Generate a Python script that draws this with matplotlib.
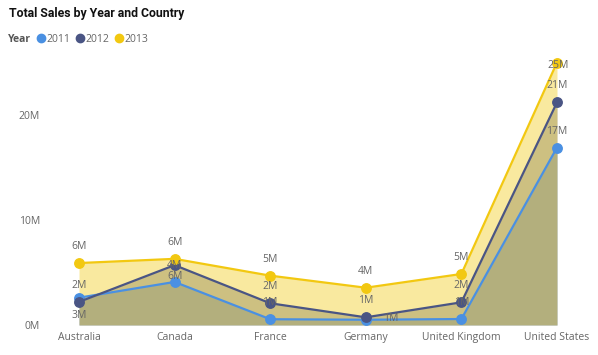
import matplotlib
matplotlib.use("Agg")
import matplotlib.pyplot as plt
from matplotlib.lines import Line2D

countries = ["Australia", "Canada", "France", "Germany", "United Kingdom", "United States"]
years = ["2011", "2012", "2013"]
sales_2011 = [2.6, 4.1, 0.55, 0.5, 0.57, 16.9]
sales_2012 = [2.2, 5.7, 2.07, 0.73, 2.16, 21.2]
sales_2013 = [5.9, 6.3, 4.7, 3.55, 4.86, 25.0]
series = [sales_2011, sales_2012, sales_2013]
colors = ["#4A90E2", "#4A5584", "#F2C811"]

# label offsets in pixels (dx, dy), keyed by (country index, series index)
default_off = (0, 16.5)
special_off = {
    (0, 0): (0, -18),
    (1, 1): (0, -11),
    (3, 0): (25, 1.5),
    (5, 2): (1, -3),
}

FONT = "Open Sans"
W, H = 598, 355
fig = plt.figure(figsize=(W / 100, H / 100), dpi=100)
x0, x1 = 79, 557
ybot, ytop = 325, 52
ax = fig.add_axes([x0 / W, (H - ybot) / H, (x1 - x0) / W, (ybot - ytop) / H])
ax.set_xlim(0, len(countries) - 1)
ax.set_ylim(0, 26)

xs = list(range(len(countries)))
for vals, c in zip(series, colors):
    ax.fill_between(xs, 0, vals, color=c, alpha=0.4, linewidth=0, zorder=1)
for vals, c in zip(series, colors):
    ax.plot(xs, vals, color=c, lw=1.6, marker="o", ms=6.8, zorder=3, clip_on=False)

for si, vals in enumerate(series):
    for ci, v in enumerate(vals):
        dx, dy = special_off.get((ci, si), default_off)
        ax.annotate(f"{int(v + 0.5)}M", (ci, v), xytext=(dx * 0.72, dy * 0.72),
                    textcoords="offset points", ha="center", va="center",
                    fontsize=7.5, color="#666666", family=FONT, zorder=4,
                    annotation_clip=False)

for s in ax.spines.values():
    s.set_visible(False)
ax.set_xticks(xs)
ax.set_xticklabels(countries, family=FONT, fontsize=7.5, color="#666666")
ax.set_yticks([0, 10, 20])
ax.set_yticklabels(["0M", "10M", "20M"], family=FONT, fontsize=7.5, color="#666666")
ax.tick_params(axis="both", length=0)
ax.tick_params(axis="y", pad=39 * 0.72)
ax.tick_params(axis="x", pad=5)

fig.text(9 / W, 1 - 14 / H, "Total Sales by Year and Country", family="Roboto",
         fontsize=8.8, fontweight="bold", color="#111111", va="center", ha="left")
fig.text(8 / W, 1 - 39 / H, "Year", family=FONT, fontsize=7.5, fontweight="bold",
         color="#555555", va="center", ha="left")
handles = [Line2D([], [], ls="none", marker="o", ms=6, color=c) for c in colors]
leg = fig.legend(handles, years, loc="center left", bbox_to_anchor=(37 / W, 1 - 39 / H),
                 ncol=3, frameon=False, handlelength=0.7, handletextpad=0.2,
                 columnspacing=0.55, borderaxespad=0, borderpad=0,
                 prop={"family": FONT, "size": 7.5})
for t in leg.get_texts():
    t.set_color("#666666")

fig.savefig("out.png", dpi=100)
